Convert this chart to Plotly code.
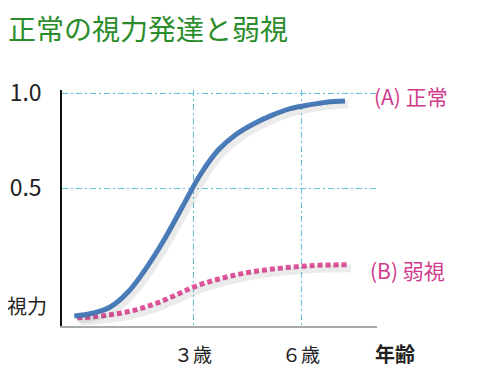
import plotly.graph_objects as go

# Data (ages in years, visual acuity)
age_normal = [-0.3, 0.2, 0.7, 1.2, 1.7, 2.2, 2.7, 3.2, 3.7, 4.2, 4.7, 5.2, 5.7, 6.2, 6.7, 7.22]
acuity_normal = [-0.174, -0.159, -0.126, -0.046, 0.079, 0.229, 0.40, 0.57, 0.70, 0.783, 0.84, 0.884, 0.918, 0.937, 0.952, 0.958]

age_amblyopia = [-0.22, 0.5, 1.0, 1.5, 2.0, 2.5, 3.0, 3.5, 4.0, 4.5, 5.0, 5.5, 6.0, 6.5, 7.3]
acuity_amblyopia = [-0.184, -0.172, -0.158, -0.136, -0.105, -0.065, -0.022, 0.01, 0.035, 0.055, 0.069, 0.08, 0.088, 0.094, 0.096]

x_tick_vals = [3, 6]
x_tick_text = ["３歳", "６歳"]
y_tick_vals = [0.5, 1.0]
y_tick_text = ["0.5", "1.0"]

title_text = "正常の視力発達と弱視"
label_a = "(A) 正常"
label_b = "(B) 弱視"
y_label = "視力"
x_label = "年齢"

FONT = "Noto Sans CJK JP"
BLUE = "#4a7dbb"
PINK = "#e2559c"
TEXT_PINK = "#cf3a8d"
GRID = "#5fbfdc"
GRID_DASH = "6px,3px,2px,3px"
SHADOW = "rgba(60,60,60,0.10)"

XR = [-0.64, 8.11]
YR = [-0.226, 1.016]
DX = 0.09   # shadow offset (data units on overlay axes)
DY = 0.018

fig = go.Figure()
# soft shadows drawn on overlay axes shifted a few pixels
fig.add_trace(go.Scatter(
    x=age_amblyopia, y=acuity_amblyopia, mode="lines", xaxis="x2", yaxis="y2",
    line=dict(color=SHADOW, width=8, shape="spline", smoothing=1.0),
    hoverinfo="skip", showlegend=False))
fig.add_trace(go.Scatter(
    x=age_normal, y=acuity_normal, mode="lines", xaxis="x2", yaxis="y2",
    line=dict(color=SHADOW, width=8, shape="spline", smoothing=1.0),
    hoverinfo="skip", showlegend=False))
fig.add_trace(go.Scatter(
    x=age_amblyopia, y=acuity_amblyopia, mode="lines",
    line=dict(color=PINK, width=5, dash="5px,3px", shape="spline", smoothing=1.0),
    hoverinfo="skip", showlegend=False))
fig.add_trace(go.Scatter(
    x=age_normal, y=acuity_normal, mode="lines",
    line=dict(color=BLUE, width=5, shape="spline", smoothing=1.0),
    hoverinfo="skip", showlegend=False))

fig.update_layout(
    width=492, height=370,
    margin=dict(l=54, r=123, t=82, b=52),
    paper_bgcolor="white", plot_bgcolor="white",
    font=dict(family=FONT, color="#222"),
    title=dict(text=title_text, x=0.0, xref="container", xanchor="left",
               y=0.939, yanchor="middle",
               font=dict(family=FONT, size=28, color="#2b8c2b")),
    xaxis=dict(range=XR, tickvals=x_tick_vals, ticktext=x_tick_text,
               showgrid=True, gridcolor=GRID, griddash=GRID_DASH, gridwidth=1,
               showline=True, linecolor="#aaaaaa", linewidth=2,
               ticks="", ticklabelstandoff=11, tickfont=dict(size=19, color="#222"),
               zeroline=False, fixedrange=True, automargin=False),
    yaxis=dict(range=YR, tickvals=y_tick_vals, ticktext=y_tick_text,
               showgrid=True, gridcolor=GRID, griddash=GRID_DASH, gridwidth=1,
               showline=True, linecolor="#111111", linewidth=1.5,
               ticks="", ticklabelstandoff=14, tickfont=dict(size=23, color="#222"),
               zeroline=False, fixedrange=True, automargin=False),
    xaxis2=dict(range=[XR[0] - DX, XR[1] - DX], overlaying="x", visible=False,
                showgrid=False, zeroline=False, fixedrange=True),
    yaxis2=dict(range=[YR[0] + DY, YR[1] + DY], overlaying="y", visible=False,
                showgrid=False, zeroline=False, fixedrange=True),
)

fig.add_annotation(x=1.0, xref="paper", xanchor="left", xshift=-5, y=0.985, yref="y",
                   text=label_a, showarrow=False, font=dict(size=21, color=TEXT_PINK))
fig.add_annotation(x=1.0, xref="paper", xanchor="left", xshift=-9, y=0.07, yref="y",
                   text=label_b, showarrow=False, font=dict(size=21, color=TEXT_PINK))
fig.add_annotation(x=0.0, xref="paper", xanchor="right", xshift=-13, y=-0.12, yref="y",
                   text=y_label, showarrow=False, font=dict(size=20, color="#222"))
fig.add_annotation(x=1.0, xref="paper", xanchor="left", xshift=-4, y=0, yref="paper",
                   yanchor="top", yshift=-11,
                   text="<b>" + x_label + "</b>", showarrow=False, font=dict(size=20, color="#222"))

fig.write_html("out.html")
